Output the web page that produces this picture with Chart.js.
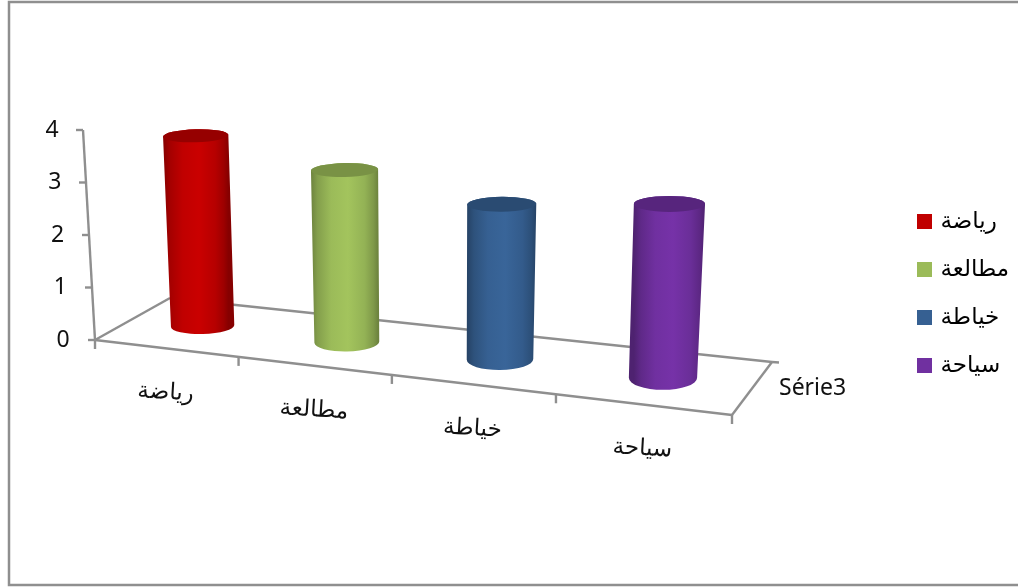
<!DOCTYPE html>
<html><head><meta charset="utf-8">
<style>html,body{margin:0;padding:0;background:#fff;overflow:hidden}canvas{display:block}</style>
<script src="https://cdn.jsdelivr.net/npm/chart.js@4/dist/chart.umd.min.js"></script>
</head><body><canvas id="c" width="1018" height="588"></canvas>
<script>
const categories = ["رياضة","مطالعة","خياطة","سياحة"];
const seriesName = "Série3";
const values = [4, 3.5, 3.05, 3.3];
const yTicks = [0,1,2,3,4];
const colors = ["#c00000","#9bbb59","#366092","#7030a0"];

const FONT = '"Noto Sans","DejaVu Sans",sans-serif';
const AXIS = '#8f8f8f';
// floor quad of the 3D projection (front-left, front-right, back-right, back-left)
const Q = [[95,340],[732,415],[772,362],[170,298]];
function homography(u,v){
  const [p0,p1,p2,p3]=Q;
  const dx1=p1[0]-p2[0],dx2=p3[0]-p2[0],sx=p0[0]-p1[0]+p2[0]-p3[0];
  const dy1=p1[1]-p2[1],dy2=p3[1]-p2[1],sy=p0[1]-p1[1]+p2[1]-p3[1];
  const d=dx1*dy2-dx2*dy1;
  const g=(sx*dy2-dx2*sy)/d,h=(dx1*sy-sx*dy1)/d;
  const a=p1[0]-p0[0]+g*p1[0],b=p3[0]-p0[0]+h*p3[0],c=p0[0];
  const e=p1[1]-p0[1]+g*p1[1],f=p3[1]-p0[1]+h*p3[1],k=p0[1];
  const w=g*u+h*v+1;
  return [(a*u+b*v+c)/w,(e*u+f*v+k)/w];
}
function shade(hex,m){
  const n=parseInt(hex.slice(1),16);
  const ch=s=>Math.min(255,Math.round(((n>>s)&255)*m));
  return `rgb(${ch(16)},${ch(8)},${ch(0)})`;
}
function line(ctx,a,b){ctx.beginPath();ctx.moveTo(a[0],a[1]);ctx.lineTo(b[0],b[1]);ctx.stroke();}
const tilt=x=>(x-430)*0.00016;

function drawCylinder(chart,ctx,bar,color){
  const xs=chart.scales.x;
  const u=(bar.x-xs.left)/xs.width;
  const B=homography(u,0.5);
  const d0=(B[0]-202)/460;
  B[0]-=3*d0*d0;
  const x=B[0];
  const hw=bar.width/2;
  const depth=(x-202)/460;
  const h=(bar.base-bar.y)*(0.905+0.000213*(x-198));
  const T=[B[0]+tilt(x)*h,B[1]-h];
  const rxT=hw*(1+0.09*depth),rxB=hw*(0.97+0.075*depth);
  const ryT=6.5+1.5*depth,ryB=8+4*depth;
  const rot=-0.03*(1-depth);
  const cr=Math.cos(rot),sr=Math.sin(rot);
  ctx.save();
  const g=ctx.createLinearGradient(T[0]-rxT,0,T[0]+rxT,0);
  [[0,.7],[.1,.85],[.3,1],[.55,1.05],[.8,.95],[.93,.82],[1,.7]].forEach(s=>g.addColorStop(s[0],shade(color,s[1])));
  ctx.fillStyle=g;
  ctx.beginPath();
  ctx.moveTo(T[0]-rxT*cr,T[1]-rxT*sr);
  ctx.lineTo(B[0]-rxB*cr,B[1]-rxB*sr);
  ctx.ellipse(B[0],B[1],rxB,ryB,rot,Math.PI,0,true);
  ctx.lineTo(T[0]+rxT*cr,T[1]+rxT*sr);
  ctx.ellipse(T[0],T[1],rxT,ryT,rot,0,Math.PI,true);
  ctx.closePath();ctx.fill();
  ctx.fillStyle=shade(color,.78);
  ctx.beginPath();ctx.ellipse(T[0],T[1],rxT,ryT,rot,0,Math.PI*2);ctx.fill();
  ctx.restore();
}

const scene3d={
  id:'scene3d',
  afterLayout(chart){
    const l=chart.legend;
    l.maxHeight=420;l.maxWidth=200;l.fit();
    l.left=895;l.right=1018;l.top=185;l.bottom=185+l.height;
  },
  beforeDraw(chart){
    const ctx=chart.ctx;
    ctx.save();
    ctx.fillStyle='#fff';ctx.fillRect(0,0,1018,588);
    ctx.strokeStyle='#8f8f8f';ctx.lineWidth=2.5;
    ctx.strokeRect(9,2,1040,583);
    ctx.restore();
  },
  beforeDatasetsDraw(chart){
    const ctx=chart.ctx,ys=chart.scales.y;
    ctx.save();
    ctx.strokeStyle=AXIS;ctx.lineWidth=2.4;ctx.lineCap='butt';
    line(ctx,Q[0],Q[1]);line(ctx,Q[1],Q[2]);line(ctx,Q[2],Q[3]);line(ctx,Q[3],Q[0]);
    line(ctx,Q[2],[Q[2][0]+7,Q[2][1]+0.5]);
    for(let i=0;i<=categories.length;i++){
      const p=homography(i/categories.length,0);
      line(ctx,p,[p[0],p[1]+9]);
    }
    const bot=ys.getPixelForValue(0),top=ys.getPixelForValue(4);
    const ax=y=>Q[0][0]+(y-bot)*(Q[0][0]-83)/(bot-top);
    line(ctx,[ax(bot),bot],[ax(top),top]);
    yTicks.forEach(v=>{const y=ys.getPixelForValue(v);line(ctx,[ax(y),y],[ax(y)-7,y]);});
    ctx.restore();
  },
  beforeDatasetDraw(chart,args){
    const meta=args.meta,ctx=chart.ctx;
    meta.data.forEach((bar,i)=>drawCylinder(chart,ctx,bar,colors[i]));
    return false;
  },
  afterDraw(chart){
    const ctx=chart.ctx,ys=chart.scales.y;
    ctx.save();
    ctx.fillStyle='#111';ctx.textAlign='center';ctx.textBaseline='middle';
    ctx.font='23px '+FONT;
    yTicks.forEach(v=>{
      const y=ys.getPixelForValue(v);
      ctx.fillText(String(v),63-(ys.getPixelForValue(0)-y)*0.052,y);
    });
    categories.forEach((c,i)=>{
      const p=homography((i+.5)/categories.length,0);
      ctx.save();
      ctx.translate(p[0],p[1]+44);
      ctx.rotate(0.06);
      ctx.fillText(c,0,0);
      ctx.restore();
    });
    ctx.textAlign='left';
    ctx.fillText(chart.data.datasets[0].label,779,388);
    ctx.restore();
  }
};

new Chart(document.getElementById('c'),{
  type:'bar',
  data:{labels:categories,datasets:[{label:seriesName,data:values,backgroundColor:colors,barPercentage:.41,categoryPercentage:1}]},
  options:{
    responsive:false,animation:false,devicePixelRatio:1,
    layout:{padding:{left:95,top:130,right:286,bottom:248}},
    scales:{
      x:{display:true,grid:{display:false},border:{display:false},ticks:{display:false},afterFit(s){s.height=0;}},
      y:{display:true,min:0,max:4,grid:{display:false},border:{display:false},ticks:{display:false,stepSize:1},afterFit(s){s.width=0;}}
    },
    plugins:{
      tooltip:{enabled:false},
      legend:{
        position:'chartArea',align:'start',
        labels:{
          usePointStyle:true,boxWidth:9,boxHeight:15,padding:25,color:'#111',
          font:{family:FONT,size:23},
          generateLabels(ch){
            return ch.data.labels.map((t,i)=>({text:t,fillStyle:colors[i],strokeStyle:colors[i],lineWidth:0,pointStyle:'rect',index:i,hidden:false}));
          }
        }
      }
    }
  },
  plugins:[scene3d]
});
</script></body></html>
